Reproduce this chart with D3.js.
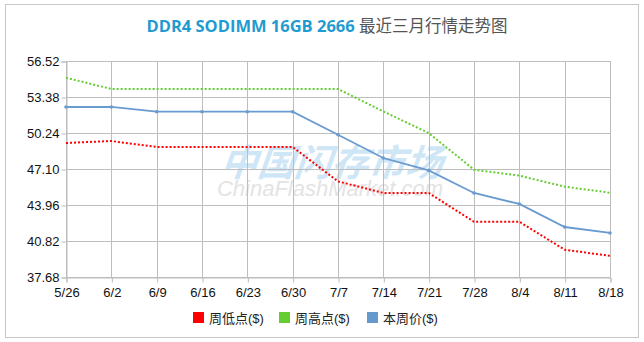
<!DOCTYPE html>
<html>
<head>
<meta charset="utf-8">
<script src="https://cdn.jsdelivr.net/npm/d3@7"></script>
<style>
  html, body { margin: 0; padding: 0; background: #fff; }
  svg { display: block; }
  text { font-family: "Liberation Sans", Arial, "Noto Sans CJK SC", sans-serif; }
</style>
</head>
<body>
<svg id="chart" width="644" height="342"></svg>
<script>
// Weekly price points for DDR4 SODIMM 16GB 2666 (USD)
const dates = ["5/26", "6/2", "6/9", "6/16", "6/23", "6/30", "7/7", "7/14", "7/21", "7/28", "8/4", "8/11", "8/18"];
const weekLow  = [49.37, 49.54, 49.02, 49.02, 49.02, 49.02, 46.02, 45.01, 45.01, 42.50, 42.50, 40.06, 39.52];
const weekHigh = [55.06, 54.08, 54.08, 54.08, 54.08, 54.08, 54.08, 52.12, 50.24, 47.04, 46.52, 45.56, 45.03];
const weekPrice = [52.51, 52.51, 52.10, 52.10, 52.10, 52.10, 50.09, 48.06, 46.98, 45.01, 44.05, 42.04, 41.52];
const yTicks = [37.68, 40.82, 43.96, 47.10, 50.24, 53.38, 56.52];

const seriesList = [
  { name: "周低点($)", values: weekLow,   color: "#ff0000", dash: "2,2", legend: "#ff0000", markers: false },
  { name: "周高点($)", values: weekHigh,  color: "#66cc33", dash: "2,2", legend: "#66cc33", markers: false },
  { name: "本周价($)", values: weekPrice, color: "#6a9bd0", dash: null,  legend: "#6699cc", markers: true }
];

const svg = d3.select("#chart");

// outer frame
svg.append("rect")
  .attr("x", 5.5).attr("y", 4.5)
  .attr("width", 633).attr("height", 333)
  .attr("fill", "#fff").attr("stroke", "#c8c8c8").attr("stroke-width", 1);

// title
const title = svg.append("text")
  .attr("x", 327).attr("y", 32)
  .attr("text-anchor", "middle")
  .attr("font-size", 16.5).attr("font-weight", "bold");
title.append("tspan").attr("fill", "#1f9bd1")
  .attr("font-family", "'Open Sans', 'Liberation Sans', sans-serif")
  .text("DDR4 SODIMM 16GB 2666 ");
title.append("tspan").attr("fill", "#555").attr("font-weight", "normal")
  .attr("font-family", "'Noto Sans CJK SC', sans-serif")
  .text("最近三月行情走势图");

const x = d3.scalePoint().domain(dates).range([66, 610]);
const y = d3.scaleLinear().domain([37.68, 56.52]).range([277, 61]);

// watermark
svg.append("text")
  .attr("x", 332).attr("y", 176)
  .attr("text-anchor", "middle")
  .attr("font-family", "'Noto Sans CJK SC', sans-serif")
  .attr("font-size", 37).attr("font-weight", "bold").attr("font-style", "italic")
  .attr("fill", "#cfe6f6")
  .attr("transform", "skewX(-6) translate(17,0)")
  .text("中国闪存市场");
svg.append("text")
  .attr("x", 330).attr("y", 196)
  .attr("text-anchor", "middle")
  .attr("font-family", "'Liberation Sans', Arial, sans-serif")
  .attr("font-size", 22).attr("font-style", "italic")
  .attr("fill", "#e3e3e3")
  .text("ChinaFlashMarket.com");

// grid
const grid = svg.append("g").attr("stroke", "#bdbdbd").attr("stroke-width", 1).attr("shape-rendering", "crispEdges");
yTicks.forEach(v => {
  grid.append("line")
    .attr("x1", x.range()[0]).attr("x2", x.range()[1])
    .attr("y1", Math.round(y(v)) + 0.5).attr("y2", Math.round(y(v)) + 0.5);
});
dates.forEach(d => {
  grid.append("line")
    .attr("x1", Math.round(x(d)) + 0.5).attr("x2", Math.round(x(d)) + 0.5)
    .attr("y1", y.range()[1]).attr("y2", y.range()[0]);
});

// axes
const yAxis = d3.axisLeft(y).tickValues(yTicks).tickFormat(d3.format(".2f")).tickSize(5).tickPadding(2);
const xAxis = d3.axisBottom(x).tickSize(5).tickPadding(3);

const gy = svg.append("g").attr("transform", "translate(66.5,0.5)").call(yAxis);
const gx = svg.append("g").attr("transform", `translate(0.5,${y.range()[0] + 0.5})`).call(xAxis);
[gx, gy].forEach(g => {
  g.select(".domain").attr("stroke", "#bdbdbd");
  g.selectAll(".tick line").attr("stroke", "#bdbdbd");
  g.selectAll(".tick text")
    .attr("fill", "#111")
    .attr("font-size", 13)
    .attr("font-family", "'Liberation Sans', Arial, sans-serif");
});
gx.selectAll(".tick text").attr("dy", "0.9em");

// series lines
const line = d3.line()
  .x((d, i) => x(dates[i]))
  .y(d => y(d));

seriesList.forEach(s => {
  svg.append("path")
    .datum(s.values)
    .attr("fill", "none")
    .attr("stroke", s.color)
    .attr("stroke-width", s.dash ? 2 : 1.8)
    .attr("stroke-dasharray", s.dash)
    .attr("d", line);
  if (s.markers) {
    svg.append("g").selectAll("circle")
      .data(s.values)
      .join("circle")
      .attr("cx", (d, i) => x(dates[i]))
      .attr("cy", d => y(d))
      .attr("r", 1.8)
      .attr("fill", s.color);
  }
});

// legend
const legendX = [193, 279, 367];
const legend = svg.append("g");
seriesList.forEach((s, i) => {
  const g = legend.append("g").attr("transform", `translate(${legendX[i]},312)`);
  g.append("rect").attr("width", 11).attr("height", 11).attr("fill", s.legend);
  g.append("text")
    .attr("x", 16).attr("y", 10.5)
    .attr("font-size", 13)
    .attr("fill", "#222")
    .attr("font-family", "'Noto Sans CJK SC', sans-serif")
    .text(s.name);
});
</script>
</body>
</html>
